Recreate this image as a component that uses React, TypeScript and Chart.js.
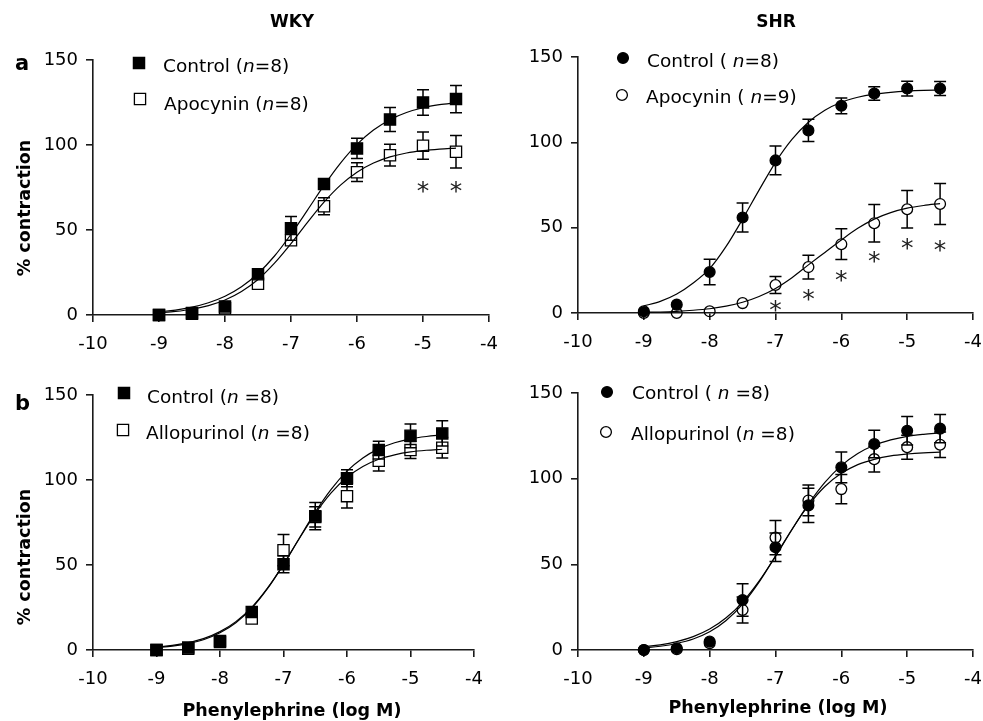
import React, { useEffect, useRef } from "react";
import { Chart, registerables } from "chart.js";

Chart.register(...registerables);

// ---------- data ----------
const doses = [-9, -8.5, -8, -7.5, -7, -6.5, -6, -5.5, -5, -4.5];
const curveX = [-9, -8.75, -8.5, -8.25, -8, -7.75, -7.5, -7.25, -7, -6.75, -6.5, -6.25, -6, -5.75, -5.5, -5.25, -5, -4.75, -4.5];
const xTicks = [-10, -9, -8, -7, -6, -5, -4];
const yTicks = [0, 50, 100, 150];

// (a) WKY – apocynin
const wkyApoControl = [0, 1.2, 5, 24, 51, 77, 98, 115, 125, 127];
const wkyApoControlErr = [0.5, 0.8, 2, 3, 7, 3, 6, 7, 7.5, 8];
const wkyApocynin = [0, 0.8, 4, 18.4, 44, 64, 84, 94, 99.6, 96];
const wkyApocyninErr = [0.5, 0.5, 1.5, 2, 3, 5, 5.5, 6.4, 8, 9.6];
const wkyApoControlCurve = [1.9, 2.9, 4.6, 7.2, 11.0, 16.6, 24.4, 34.7, 47.5, 61.7, 76.2, 89.4, 100.4, 108.8, 114.9, 119.1, 121.9, 123.7, 124.9];
const wkyApocyninCurve = [1.3, 2.1, 3.4, 5.5, 8.8, 13.8, 20.9, 30.5, 42.0, 54.5, 66.4, 76.4, 84.0, 89.4, 93.0, 95.3, 96.7, 97.6, 98.2];
const wkyApoStarX = [-5, -4.5];
const wkyApoStarY = [75.5, 75.5];

// (a) SHR – apocynin
const shrApoControl = [1, 4.9, 24, 56, 89.4, 107, 121.4, 128.6, 131.5, 131.5];
const shrApoControlErr = [0.5, 1, 7.5, 8.5, 8.4, 6.5, 4.6, 4, 4.3, 4.1];
const shrApocynin = [0, 0, 1, 5.8, 16.4, 26.9, 40.3, 52.6, 60.8, 63.9];
const shrApocyninErr = [0.3, 0.3, 0.5, 1.5, 5, 7, 9, 11, 11, 12];
const shrApoControlCurve = [4.2, 6.8, 11.1, 17.6, 26.0, 39.0, 55.0, 72.0, 88.3, 101.7, 111.8, 118.8, 123.5, 126.4, 128.2, 129.3, 130.0, 130.4, 130.6];
const shrApocyninCurve = [0.4, 0.6, 1.0, 1.6, 2.5, 4.0, 6.3, 9.7, 14.4, 20.7, 28.2, 35.5, 42.8, 49.6, 55.0, 58.8, 61.4, 63.0, 64.1];
const shrApoStarX = [-7, -6.5, -6, -5.5, -5, -4.5];
const shrApoStarY = [4.2, 10.3, 21.8, 33, 40.3, 39.5];

// (b) WKY – allopurinol
const wkyAlloControl = [0, 1.4, 4.7, 22.4, 50.5, 78.7, 101, 117.6, 126, 127.4];
const wkyAlloControlErr = [0.5, 0.8, 1.5, 2.5, 5, 8, 5, 5.2, 7, 7.4];
const wkyAllopurinol = [0, 0.8, 5.3, 18.5, 58.7, 78.3, 90.5, 111.3, 117.6, 119];
const wkyAllopurinolErr = [0.5, 0.5, 1.5, 2, 9.2, 6, 7, 6, 5, 6];
const wkyAlloControlCurve = [1.6, 2.7, 4.3, 6.8, 10.8, 16.7, 25.1, 36.5, 50.4, 65.9, 81.1, 94.5, 105.2, 113.0, 118.3, 121.9, 124.2, 125.6, 126.5];
const wkyAllopurinolCurve = [1.4, 2.3, 3.8, 6.2, 10.1, 16.0, 24.6, 36.2, 50.3, 65.6, 80.2, 92.4, 101.6, 108.0, 112.2, 114.8, 116.5, 117.5, 118.1];

// (b) SHR – allopurinol
const shrAlloControl = [0, 1, 4.9, 29.2, 60, 84.4, 106.6, 120.2, 128, 129.2];
const shrAlloControlErr = [0.5, 0.5, 1, 9.5, 8.3, 10, 9, 8, 8.3, 8.3];
const shrAllopurinol = [0, 0.4, 4, 23.4, 65.6, 87.3, 93.9, 111.4, 118.4, 119.8];
const shrAllopurinolErr = [0.3, 0.3, 1, 7.6, 10, 9, 8.5, 7.5, 7, 7.5];
const shrAlloControlCurve = [1.9, 3.0, 4.9, 7.8, 12.2, 18.8, 28.0, 40.2, 54.7, 70.2, 85.1, 97.8, 107.6, 114.7, 119.5, 122.6, 124.7, 125.9, 126.7];
const shrAllopurinolCurve = [1.3, 2.2, 3.8, 6.4, 10.6, 17.2, 26.8, 39.6, 54.8, 70.5, 84.4, 95.4, 103.1, 108.2, 111.3, 113.3, 114.4, 115.1, 115.5];

// ---------- styling / layout ----------
const W = 983;
const H = 721;
const FONT = '"DejaVu Sans", "Liberation Sans", sans-serif';
const AXIS = "#1a1a1a";
const YW = 60;
const XH = 40;
const HALF_SIDE = 5.6;
const RECT_R = HALF_SIDE / Math.SQRT1_2;
const CIRC_R = 5.4;

type Seg = [string, boolean];
type Series = { name: Seg[]; y: number[]; err: number[]; filled: boolean; style: "rect" | "circle"; lx: number; ly: number; tx: number; tb: number };
type TextItem = { text: string; x: number; y: number; font: string; align: CanvasTextAlign; rot?: boolean };
type Panel = {
  area: { left: number; top: number; right: number; bottom: number };
  series: Series[];
  curves: number[][];
  starX: number[];
  starY: number[];
  texts: TextItem[];
};

const panels: Panel[] = [
  {
    area: { left: 93, top: 60, right: 489, bottom: 315 },
    series: [
      { name: [["Apocynin (", false], ["n", true], ["=8)", false]], y: wkyApocynin, err: wkyApocyninErr, filled: false, style: "rect", lx: 140, ly: 99, tx: 164, tb: 110 },
      { name: [["Control (", false], ["n", true], ["=8)", false]], y: wkyApoControl, err: wkyApoControlErr, filled: true, style: "rect", lx: 139, ly: 63, tx: 163, tb: 72 },
    ],
    curves: [wkyApoControlCurve, wkyApocyninCurve],
    starX: wkyApoStarX,
    starY: wkyApoStarY,
    texts: [
      { text: "WKY", x: 292, y: 27, font: `bold 17px ${FONT}`, align: "center" },
      { text: "a", x: 15, y: 70, font: `bold 21px ${FONT}`, align: "left" },
      { text: "% contraction", x: 30, y: 208, font: `bold 17.5px ${FONT}`, align: "center", rot: true },
    ],
  },
  {
    area: { left: 578, top: 57, right: 973, bottom: 313 },
    series: [
      { name: [["Apocynin ( ", false], ["n", true], ["=9)", false]], y: shrApocynin, err: shrApocyninErr, filled: false, style: "circle", lx: 622, ly: 95, tx: 646, tb: 103 },
      { name: [["Control ( ", false], ["n", true], ["=8)", false]], y: shrApoControl, err: shrApoControlErr, filled: true, style: "circle", lx: 623, ly: 58, tx: 647, tb: 67 },
    ],
    curves: [shrApoControlCurve, shrApocyninCurve],
    starX: shrApoStarX,
    starY: shrApoStarY,
    texts: [{ text: "SHR", x: 776, y: 27, font: `bold 17px ${FONT}`, align: "center" }],
  },
  {
    area: { left: 93, top: 395, right: 474, bottom: 650 },
    series: [
      { name: [["Allopurinol (", false], ["n", true], [" =8)", false]], y: wkyAllopurinol, err: wkyAllopurinolErr, filled: false, style: "rect", lx: 123, ly: 430, tx: 146, tb: 439 },
      { name: [["Control (", false], ["n", true], [" =8)", false]], y: wkyAlloControl, err: wkyAlloControlErr, filled: true, style: "rect", lx: 124, ly: 393, tx: 147, tb: 403 },
    ],
    curves: [wkyAlloControlCurve, wkyAllopurinolCurve],
    starX: [],
    starY: [],
    texts: [
      { text: "b", x: 15, y: 410, font: `bold 21px ${FONT}`, align: "left" },
      { text: "% contraction", x: 30, y: 557, font: `bold 17.5px ${FONT}`, align: "center", rot: true },
      { text: "Phenylephrine (log M)", x: 292, y: 716, font: `bold 17.5px ${FONT}`, align: "center" },
    ],
  },
  {
    area: { left: 578, top: 393, right: 973, bottom: 650 },
    series: [
      { name: [["Allopurinol (", false], ["n", true], [" =8)", false]], y: shrAllopurinol, err: shrAllopurinolErr, filled: false, style: "circle", lx: 606, ly: 432, tx: 631, tb: 440 },
      { name: [["Control ( ", false], ["n", true], [" =8)", false]], y: shrAlloControl, err: shrAlloControlErr, filled: true, style: "circle", lx: 607, ly: 392, tx: 632, tb: 399 },
    ],
    curves: [shrAlloControlCurve, shrAllopurinolCurve],
    starX: [],
    starY: [],
    texts: [{ text: "Phenylephrine (log M)", x: 778, y: 713, font: `bold 17.5px ${FONT}`, align: "center" }],
  },
];

function drawMarker(ctx: CanvasRenderingContext2D, s: Series, x: number, y: number) {
  ctx.save();
  ctx.lineWidth = 1.3;
  ctx.strokeStyle = "#000";
  ctx.fillStyle = "#000";
  ctx.beginPath();
  if (s.style === "rect") ctx.rect(x - HALF_SIDE, y - HALF_SIDE, HALF_SIDE * 2, HALF_SIDE * 2);
  else ctx.arc(x, y, CIRC_R, 0, Math.PI * 2);
  if (s.filled) ctx.fill();
  ctx.stroke();
  ctx.restore();
}

function makeDecor(p: Panel) {
  return {
    id: "decor",
    beforeDatasetsDraw(chart: any) {
      const ctx: CanvasRenderingContext2D = chart.ctx;
      const xs = chart.scales.x;
      const ys = chart.scales.y;
      ctx.save();
      ctx.strokeStyle = "#000";
      ctx.lineWidth = 1.5;
      for (const s of p.series) {
        const r = s.style === "rect" ? HALF_SIDE : CIRC_R;
        s.y.forEach((v, i) => {
          const e = s.err[i];
          const px = xs.getPixelForValue(doses[i]);
          const py = ys.getPixelForValue(v);
          const top = ys.getPixelForValue(v + e);
          const bot = ys.getPixelForValue(Math.max(0, v - e));
          ctx.beginPath();
          if (py - top > r + 0.5) {
            ctx.moveTo(px, top);
            ctx.lineTo(px, py - r);
            ctx.moveTo(px - 6, top);
            ctx.lineTo(px + 6, top);
          }
          if (bot - py > r + 0.5 && v - e > 0) {
            ctx.moveTo(px, py + r);
            ctx.lineTo(px, bot);
            ctx.moveTo(px - 6, bot);
            ctx.lineTo(px + 6, bot);
          }
          ctx.stroke();
        });
      }
      ctx.restore();
    },
    afterDraw(chart: any) {
      const ctx: CanvasRenderingContext2D = chart.ctx;
      const xs = chart.scales.x;
      const ys = chart.scales.y;
      ctx.save();
      // asterisks
      ctx.fillStyle = "#222";
      ctx.font = `25px ${FONT}`;
      ctx.textAlign = "center";
      ctx.textBaseline = "alphabetic";
      const m = ctx.measureText("*");
      const off = (m.actualBoundingBoxAscent - m.actualBoundingBoxDescent) / 2;
      p.starX.forEach((x, i) => {
        ctx.fillText("*", xs.getPixelForValue(x), ys.getPixelForValue(p.starY[i]) + off);
      });
      // legend
      ctx.fillStyle = "#000";
      ctx.textAlign = "left";
      for (const s of p.series) {
        drawMarker(ctx, s, s.lx, s.ly);
        let cx = s.tx;
        for (const [t, it] of s.name) {
          ctx.font = `${it ? "italic " : ""}18.5px ${FONT}`;
          ctx.fillText(t, cx, s.tb);
          cx += ctx.measureText(t).width;
        }
      }
      // titles
      for (const t of p.texts) {
        ctx.save();
        ctx.font = t.font;
        ctx.textAlign = t.align;
        ctx.fillStyle = "#000";
        ctx.translate(t.x, t.y);
        if (t.rot) ctx.rotate(-Math.PI / 2);
        ctx.fillText(t.text, 0, 0);
        ctx.restore();
      }
      ctx.restore();
    },
  };
}

function buildConfig(p: Panel): any {
  const tickFont = { family: FONT, size: 18 };
  const grid = { display: true, drawOnChartArea: false, drawTicks: true, tickLength: 7, color: AXIS, lineWidth: 1.6 };
  const border = { display: true, color: AXIS, width: 1.6 };
  const markerSets = p.series.map((s) => ({
    type: "scatter",
    data: s.y.map((v, i) => ({ x: doses[i], y: v })),
    pointStyle: s.style,
    pointRadius: s.style === "rect" ? RECT_R : CIRC_R,
    pointBackgroundColor: s.filled ? "#000" : "rgba(0,0,0,0)",
    pointBorderColor: "#000",
    pointBorderWidth: 1.3,
    showLine: false,
    clip: false,
  }));
  const curveSets = p.curves.map((c) => ({
    type: "line",
    data: c.map((v, i) => ({ x: curveX[i], y: v })),
    borderColor: "#000",
    borderWidth: 1.2,
    pointRadius: 0,
    showLine: true,
    fill: false,
    cubicInterpolationMode: "monotone",
    clip: false,
  }));
  const datasets = [...markerSets.slice().reverse(), ...curveSets];
  return {
    type: "scatter",
    data: { datasets },
    options: {
      animation: false,
      responsive: false,
      events: [],
      layout: {
        padding: {
          left: p.area.left - YW,
          top: p.area.top,
          right: W - p.area.right,
          bottom: H - p.area.bottom - XH,
        },
      },
      plugins: { legend: { display: false }, tooltip: { enabled: false }, title: { display: false } },
      scales: {
        x: {
          type: "linear",
          min: -10,
          max: -4,
          afterBuildTicks: (s: any) => {
            s.ticks = xTicks.map((v) => ({ value: v }));
          },
          ticks: { font: tickFont, color: "#000", padding: 12, maxRotation: 0, autoSkip: false, callback: (v: any) => String(v) },
          grid,
          border,
          afterFit: (s: any) => {
            s.height = XH;
            s.paddingLeft = 0;
            s.paddingRight = 0;
          },
        },
        y: {
          type: "linear",
          min: 0,
          max: 150,
          afterBuildTicks: (s: any) => {
            s.ticks = yTicks.map((v) => ({ value: v }));
          },
          ticks: { font: tickFont, color: "#000", padding: 8, callback: (v: any) => String(v) },
          grid,
          border,
          afterFit: (s: any) => {
            s.width = YW;
            s.paddingTop = 0;
            s.paddingBottom = 0;
          },
        },
      },
    },
    plugins: [makeDecor(p)],
  };
}

function PanelCanvas({ p }: { p: Panel }) {
  const ref = useRef<HTMLCanvasElement>(null);
  useEffect(() => {
    if (!ref.current) return;
    const chart = new Chart(ref.current, buildConfig(p));
    return () => chart.destroy();
  }, [p]);
  return (
    <canvas
      ref={ref}
      width={W}
      height={H}
      style={{ position: "absolute", left: 0, top: 0, width: W, height: H }}
    />
  );
}

export default function App() {
  return (
    <div style={{ position: "absolute", left: 0, top: 0, width: W, height: H, background: "#fff" }}>
      {panels.map((p, i) => (
        <PanelCanvas key={i} p={p} />
      ))}
    </div>
  );
}
